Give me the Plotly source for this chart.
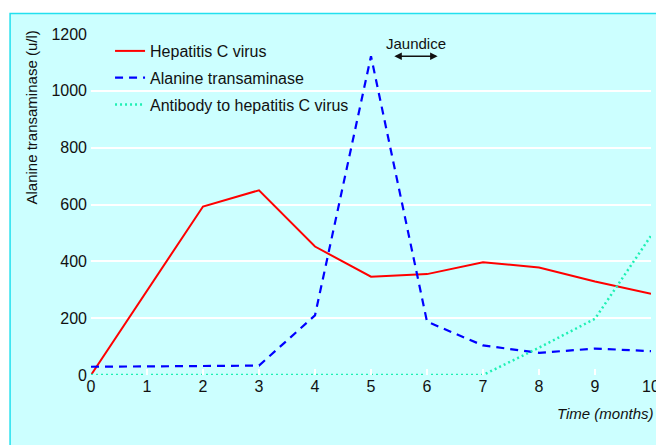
import plotly.graph_objects as go

months = [0, 1, 2, 3, 4, 5, 6, 7, 8, 9, 10]

hcv_x = [0, 2, 3, 4, 5, 6, 7, 8, 9, 10]
hcv_y = [0, 593, 650, 452, 346, 355, 397, 378, 329, 286]

alt_x = [0, 3, 4, 5, 6, 7, 8, 9, 10]
alt_y = [29, 33, 210, 1122, 188, 104, 78, 93, 84]

ab_x = [0, 7, 8, 9, 10]
ab_y = [0, 0, 96, 198, 490]

FONT = "Liberation Sans, Arial, sans-serif"

fig = go.Figure()

fig.add_trace(
    go.Scatter(
        x=hcv_x,
        y=hcv_y,
        mode="lines",
        name="Hepatitis C virus",
        legendgroup="a",
        line=dict(color="#ff0000", width=2),
        cliponaxis=False
    )
)

fig.add_trace(
    go.Scatter(
        x=alt_x,
        y=alt_y,
        mode="lines",
        name="Alanine transaminase",
        legendgroup="b",
        line=dict(color="#0000ff", width=2.2, dash="8px,6px"),
        cliponaxis=False
    )
)

fig.add_trace(
    go.Scatter(
        x=ab_x,
        y=ab_y,
        mode="lines",
        name="Antibody to hepatitis C virus",
        legendgroup="c",
        line=dict(color="#1ef0b4", width=2.5, dash="2px,3px"),
        cliponaxis=False
    )
)

# outer light panel with cyan border
fig.add_shape(
    type="rect",
    xref="paper", yref="paper",
    x0=-0.1445, x1=1.2, y0=-0.4, y1=1.06,
    fillcolor="#ccffff",
    line=dict(color="#22e0ee", width=1.5),
    layer="below"
)

# jaundice double arrow
fig.add_annotation(
    x=6.19, y=1122, ax=5.39, ay=1122,
    xref="x", yref="y", axref="x", ayref="y",
    text="",
    showarrow=True,
    arrowside="end+start",
    arrowhead=2,
    startarrowhead=2,
    arrowsize=1,
    startarrowsize=1,
    arrowwidth=1.5,
    arrowcolor="#111111"
)

fig.add_annotation(
    x=5.8, y=1167,
    xref="x", yref="y",
    text="Jaundice",
    showarrow=False,
    font=dict(family=FONT, size=15, color="#111111")
)

fig.add_annotation(
    x=1.009, y=-0.114,
    xref="paper", yref="paper",
    xanchor="right", yanchor="middle",
    text="<i>Time (months)</i>",
    showarrow=False,
    font=dict(family=FONT, size=15, color="#111111")
)

fig.add_annotation(
    x=-0.106, y=1.015,
    xref="paper", yref="paper",
    xanchor="center", yanchor="top",
    textangle=-90,
    text="Alanine transaminase (u/l)",
    showarrow=False,
    font=dict(family=FONT, size=15, color="#111111")
)

fig.update_layout(
    width=664,
    height=445,
    margin=dict(l=83, r=17, t=26, b=78),
    paper_bgcolor="white",
    plot_bgcolor="#a6fbfb",
    font=dict(family=FONT, size=16, color="#111111"),
    showlegend=True,
    legend=dict(
        x=0.034, y=1.0,
        xanchor="left", yanchor="top",
        bgcolor="rgba(0,0,0,0)",
        font=dict(family=FONT, size=16, color="#111111"),
        tracegroupgap=3
    ),
    xaxis=dict(
        range=[0, 10],
        tickvals=months,
        showgrid=False,
        zeroline=False,
        showline=False,
        ticks="inside",
        ticklen=6,
        tickwidth=2,
        tickcolor="white",
        tickfont=dict(family=FONT, size=16)
    ),
    yaxis=dict(
        range=[0, 1200],
        tickvals=[0, 200, 400, 600, 800, 1000, 1200],
        showgrid=True,
        gridcolor="white",
        gridwidth=2,
        zeroline=False,
        showline=False,
        ticks="",
        ticklabelstandoff=3,
        tickfont=dict(family=FONT, size=16)
    )
)

fig.write_html("out.html")
